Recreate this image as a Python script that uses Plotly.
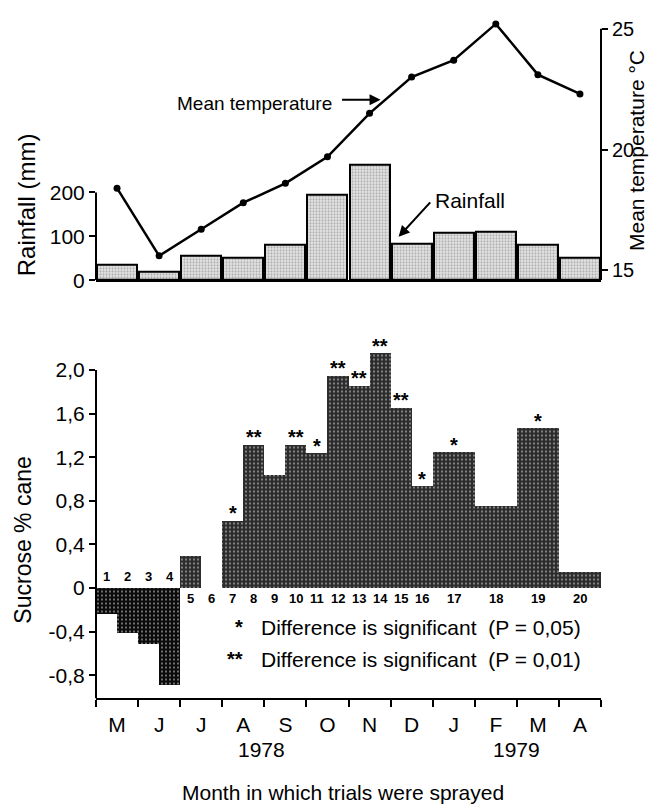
import plotly.graph_objects as go

# ---------------- data ----------------
months = ["M", "J", "J", "A", "S", "O", "N", "D", "J", "F", "M", "A"]
rainfall_mm = [34, 20, 56, 51, 80, 195, 262, 82, 107, 111, 80, 50]
temperature_c = [18.4, 15.6, 16.7, 17.8, 18.6, 19.7, 21.5, 23.0, 23.7, 25.2, 23.1, 22.3]

trial_no = list(range(1, 21))
# month offset (from start of May 1978) at which each trial's bar starts, and its span in months
trial_start = [0, 0.5, 1, 1.5, 2, 2.5, 3, 3.5, 4, 4.5, 5, 5.5, 6, 6.5, 7, 7.5, 8, 9, 10, 11]
trial_span = [0.5] * 16 + [1, 1, 1, 1]
sucrose_gain = [-0.23, -0.41, -0.51, -0.89, 0.30, 0.0, 0.62, 1.32, 1.04, 1.32,
                1.24, 1.95, 1.86, 2.16, 1.66, 0.94, 1.25, 0.76, 1.47, 0.15]
significance = ["", "", "", "", "", "", "*", "**", "", "**",
                "*", "**", "**", "**", "**", "*", "*", "", "*", ""]

sucrose_ticks = [-0.8, -0.4, 0, 0.4, 0.8, 1.2, 1.6, 2.0]
sucrose_ticktext = ["-0,8", "-0,4", "0", "0,4", "0,8", "1,2", "1,6", "2,0"]
rain_ticks = [0, 100, 200]
temp_ticks = [15, 20, 25]
years = [("1978", 3.93), ("1979", 10.0)]

# ---------------- layout helpers ----------------
W, H = 659, 809
def px(x):
    return x / W
def py(y):
    return 1 - y / H

FONT = "Liberation Sans, Arial, sans-serif"

month_centers = [i + 0.5 for i in range(12)]
trial_centers = [s + w / 2 for s, w in zip(trial_start, trial_span)]

fig = go.Figure()

# rainfall bars
fig.add_trace(go.Bar(
    x=month_centers, y=rainfall_mm, width=0.95,
    marker=dict(color="#d9d9d9", line=dict(color="black", width=2),
                pattern=dict(shape=".", bgcolor="#e2e2e2", fgcolor="#6e6e6e", size=3, solidity=0.35)),
    xaxis="x", yaxis="y", showlegend=False,
))
# temperature line
fig.add_trace(go.Scatter(
    x=month_centers, y=temperature_c, mode="lines+markers",
    line=dict(color="black", width=2.5), marker=dict(color="black", size=7),
    xaxis="x", yaxis="y2", showlegend=False,
))

# sucrose bars
colors = ["#0a0a0a" if v < 0 else "#2c2c2c" for v in sucrose_gain]
fg = ["#2a2a2a" if v < 0 else "#8f8f8f" for v in sucrose_gain]
fig.add_trace(go.Bar(
    x=trial_centers, y=sucrose_gain, width=trial_span,
    marker=dict(color=colors, line=dict(width=0),
                pattern=dict(shape=".", bgcolor=colors, fgcolor=fg, size=4, solidity=0.22)),
    xaxis="x2", yaxis="y3", showlegend=False,
))

xdom = [px(88), px(593)]
tick_font = dict(family=FONT, size=21, color="black")

fig.update_layout(
    width=W, height=H, margin=dict(l=0, r=0, t=0, b=0),
    paper_bgcolor="white", plot_bgcolor="white",
    bargap=0,
    xaxis=dict(domain=xdom, range=[0, 12], anchor="y", showline=True, linecolor="black",
               linewidth=2, showticklabels=False, ticks="", showgrid=False, zeroline=False),
    yaxis=dict(domain=[py(276), py(10)], range=[0, 598], tickvals=rain_ticks,
               ticks="outside", ticklen=6, tickwidth=2, tickcolor="black",
               showgrid=False, zeroline=False, showline=False, tickfont=tick_font),
    yaxis2=dict(overlaying="y", side="right", anchor="x", range=[14.59, 25.45],
                tickvals=temp_ticks, ticks="outside", ticklen=6, tickwidth=2, tickcolor="black",
                showgrid=False, zeroline=False, showline=False,
                tickfont=dict(family=FONT, size=20, color="black")),
    xaxis2=dict(domain=xdom, range=[0, 12], anchor="y3", showline=True, linecolor="black",
                linewidth=2, tickmode="array", tickvals=month_centers, ticktext=months,
                ticks="", ticklabelstandoff=6,
                minor=dict(tickmode="array", tickvals=list(range(13)), ticks="outside",
                           ticklen=7, tickwidth=2, tickcolor="black"),
                tickfont=dict(family=FONT, size=21, color="black"),
                showgrid=False, zeroline=False),
    yaxis3=dict(domain=[py(700), py(330)], range=[-1.014, 2.335], anchor="x2",
                tickvals=sucrose_ticks, ticktext=sucrose_ticktext,
                ticks="outside", ticklen=6, tickwidth=2, tickcolor="black",
                showgrid=False, zeroline=False, showline=False, tickfont=tick_font),
)

# axis lines drawn only over the labelled span
shapes = [
    dict(type="line", xref="x domain", yref="y", x0=0, x1=0, y0=0, y1=200,
         line=dict(color="black", width=2)),
    dict(type="line", xref="x domain", yref="y2", x0=1, x1=1, y0=14.59, y1=25,
         line=dict(color="black", width=2)),
    dict(type="line", xref="x2 domain", yref="y3", x0=0, x1=0, y0=-1.014, y1=2.0,
         line=dict(color="black", width=2)),
]
fig.update_layout(shapes=shapes)


def text(x, y, s, size, xref="paper", yref="paper", xanchor="center", yanchor="middle",
         angle=0, **kw):
    return dict(x=x, y=y, xref=xref, yref=yref, text=s, showarrow=False,
                xanchor=xanchor, yanchor=yanchor, textangle=angle,
                font=dict(family=FONT, size=size, color="black"), **kw)


ann = []
# trial numbers
for n, c, v in zip(trial_no, trial_centers, sucrose_gain):
    ann.append(text(c, 0, "<b>%d</b>" % n, 13, xref="x2", yref="y3",
                    yshift=11 if v < 0 else -11))
# significance stars
for c, v, s in zip(trial_centers, sucrose_gain, significance):
    if s:
        ann.append(text(c, v, "<b>%s</b>" % s, 20, xref="x2", yref="y3",
                        yanchor="bottom", yshift=-6))
# years
for t, xm in years:
    ann.append(text(xm, py(752), t, 21, xref="x2"))
# axis titles
ann.append(text(px(335), py(795), "Month in which trials were sprayed", 21))
ann.append(text(px(15), py(540), "Sucrose % cane", 23, angle=-90))
ann.append(text(px(18), py(200), "Rainfall (mm)", 24, angle=-90))
ann.append(text(px(628), py(145), "Mean temperature °C", 21, angle=-90))
# legend for significance
for yy, star, ptxt in [(628, "*", "(P = 0,05)"), (660, "**", "(P = 0,01)")]:
    ann.append(text(px(237), py(yy), "<b>%s</b>" % star, 20, xanchor="right"))
    ann.append(text(px(251), py(yy), "Difference is significant  " + ptxt, 21, xanchor="left"))
# series labels with arrows
ann.append(text(px(326), py(97), "Mean temperature", 19, xanchor="right"))
ann.append(dict(x=(372 - 88) / 42, y=22.06, xref="x", yref="y2", text="", showarrow=True,
                ax=-40, ay=0, arrowhead=2, arrowsize=1.1, arrowwidth=2, arrowcolor="black"))
ann.append(text(px(425), py(195), "Rainfall", 21, xanchor="left"))
ann.append(dict(x=(390 - 88) / 42, y=99, xref="x", yref="y", text="", showarrow=True,
                ax=33, ay=-36, arrowhead=2, arrowsize=1.1, arrowwidth=2, arrowcolor="black"))
fig.update_layout(annotations=ann)

fig.write_html("out.html")
